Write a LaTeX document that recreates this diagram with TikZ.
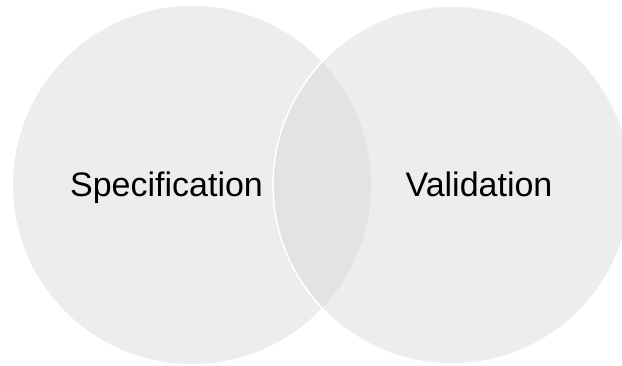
\documentclass[tikz,border=0pt]{standalone}
\usepackage{fontspec}
\setmainfont{Liberation Sans}
\usetikzlibrary{positioning}

\definecolor{setgray}{gray}{0.84}

\begin{document}
\begin{tikzpicture}[x=1pt,y=1pt]
% two overlapping sets, the overlap comes out darker
\useasboundingbox (0,0) rectangle (622,365);

\node[circle,minimum size=358pt,inner sep=0pt,fill=setgray,fill opacity=0.44] (spec) at (192,180) {};
\node[circle,minimum size=358pt,inner sep=0pt,fill=setgray,fill opacity=0.44,draw=white,line width=1.5pt] (val) at (452,180) {};

\node[anchor=base,font=\fontsize{34}{40}\selectfont] (spectxt) at (166.5,168) {Specification};
\node[anchor=base,font=\fontsize{34}{40}\selectfont] (valtxt) at (479,168) {Validation};
\end{tikzpicture}
\end{document}
